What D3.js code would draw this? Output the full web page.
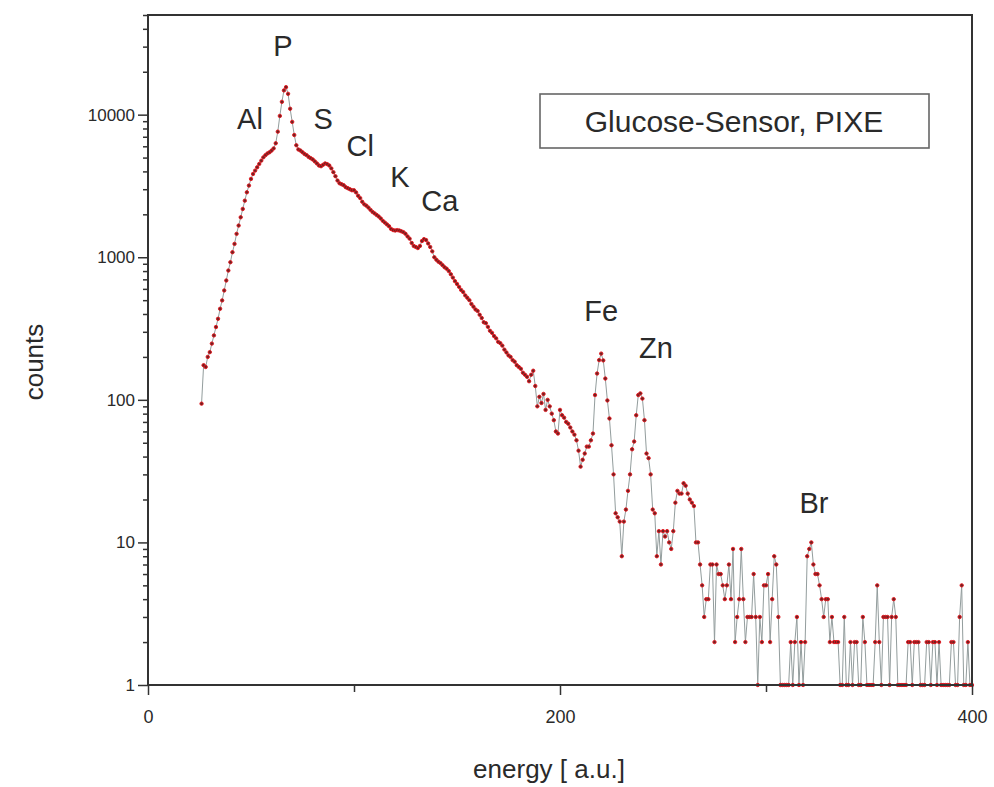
<!DOCTYPE html>
<html>
<head>
<meta charset="utf-8">
<script src="https://cdn.jsdelivr.net/npm/d3@7/dist/d3.min.js"></script>
<style>
  html, body { margin: 0; padding: 0; background: #fff; }
  svg { display: block; font-family: "Liberation Sans", Arial, sans-serif; }
</style>
</head>
<body>
<svg id="chart" width="994" height="787"></svg>
<script>
// ---- data ----
const firstChannel = 26;
const counts = [
  94, 175, 170, 200, 216, 248, 283, 324, 370, 435,            // 26-35
  498, 585, 687, 807, 923, 1085, 1241, 1459, 1668, 1907,      // 36-45
  2181, 2494, 2855, 3183, 3543, 3840, 4052, 4274, 4514, 4760, // 46-55
  5020, 5200, 5350, 5450, 5600, 5800, 6300, 7600, 9800, 12300,// 56-65
  14800, 15600, 14000, 11000, 8900, 7200, 6100, 5700, 5600, 5450, // 66-75
  5300, 5200, 5050, 4950, 4850, 4700, 4550, 4400, 4350, 4450, // 76-85
  4550, 4500, 4400, 4200, 3950, 3700, 3450, 3300, 3250, 3200, // 86-95
  3100, 3050, 3000, 2950, 2950, 2850, 2700, 2600, 2450, 2350, // 96-105
  2300, 2230, 2150, 2080, 2030, 1980, 1930, 1870, 1800, 1750, // 106-115
  1700, 1650, 1580, 1550, 1540, 1550, 1540, 1520, 1500, 1460, // 116-125
  1400, 1350, 1260, 1200, 1180, 1160, 1200, 1300, 1340, 1320, // 126-135
  1250, 1180, 1100, 1000, 960, 930, 910, 880, 850, 830,       // 136-145
  800, 760, 720, 680, 650, 620, 590, 570, 540, 520,           // 146-155
  500, 470, 450, 430, 420, 395, 375, 350, 345, 325,           // 156-165
  305, 295, 280, 270, 255, 250, 240, 225, 215, 205,           // 166-175
  200, 190, 185, 175, 170, 165, 155, 150, 145, 135,           // 176-185
  150, 160, 125, 90, 105, 95, 110, 85, 100, 90,               // 186-195
  80, 72, 60, 58, 85, 78, 75, 70, 68, 64,                     // 196-205
  60, 57, 52, 44, 34, 38, 42, 47, 47, 52,                     // 206-215
  58, 108, 153, 190, 211, 189, 141, 99, 74, 48,               // 216-225
  30, 16, 15, 14, 8, 14, 17, 23, 30, 45,                      // 226-235
  51, 78, 108, 111, 102, 72, 42, 39, 30, 17,                  // 236-245
  16, 8, 12, 7, 12, 11, 12, 10, 9, 12,                        // 246-255
  19, 23, 22, 22, 26, 25, 22, 20, 19, 18,                     // 256-265
  10, 10, 7, 5, 3, 4, 4, 7, 7, 2,                             // 266-275
  7, 6, 6, 5, 4, 5, 7, 4, 9, 2,                               // 276-285
  3, 4, 9, 4, 2, 3, 3, 3, 6, 3,                               // 286-295
  1, 3, 2, 5, 5, 6, 2, 4, 8, 7,                               // 296-305
  3, 1, 1, 1, 1, 1, 2, 1, 2, 3,                               // 306-315
  1, 2, 1, 2, 8, 9, 10, 7, 6, 6,                              // 316-325
  5, 4, 3, 4, 4, 2, 3, 2, 2, 2,                               // 326-335
  1, 1, 3, 1, 1, 2, 1, 2, 2, 1,                               // 336-345
  1, 3, 2, 1, 1, 1, 1, 2, 5, 2,                               // 346-355
  1, 3, 3, 3, 1, 3, 4, 3, 1, 1,                               // 356-365
  1, 1, 1, 2, 2, 1, 2, 2, 2, 1,                               // 366-375
  1, 1, 2, 2, 1, 2, 2, 1, 2, 1,                               // 376-385
  1, 1, 1, 1, 2, 2, 1, 1, 3, 5,                               // 386-395
  1, 1, 2, 1, 1                                               // 396-400
];
const channels = d3.range(firstChannel, firstChannel + counts.length);
const peakLabels = ["Al", "P", "S", "Cl", "K", "Ca", "Fe", "Zn", "Br"];
const peakEnergy = [49.5, 65.5, 85, 103, 122.3, 141.7, 220, 246.6, 323.3];
const peakCount = [7980, 25900, 7980, 5160, 3130, 2125, 360, 195, 16];
const xTickLabels = [0, 200, 400];
const xMinorTicks = [100, 300];
const yTickLabels = [1, 10, 100, 1000, 10000];
const legendText = "Glucose-Sensor, PIXE";
const xTitle = "energy [ a.u.]";
const yTitle = "counts";

// ---- layout ----
const svg = d3.select("#chart");
const L = 148, R = 972, T = 15, B = 685;
const x = d3.scaleLinear().domain([0, 400]).range([L, R]);
const y = d3.scaleLog().domain([1, 50000]).range([B, T]);

const axisColor = "#333";
const textColor = "#2a2a2a";

// minor y ticks
const yMinor = [];
[1, 10, 100, 1000, 10000].forEach(d => {
  for (let k = 2; k <= 9; k++) { const v = d * k; if (v <= 50000) yMinor.push(v); }
});

// data line
const pts = channels.map((c, i) => [c, counts[i]]);
const line = d3.line().x(d => x(d[0])).y(d => y(d[1]));
svg.append("path").datum(pts)
  .attr("d", line)
  .attr("fill", "none")
  .attr("stroke", "#939d9d")
  .attr("stroke-width", 1);

svg.append("g").selectAll("circle").data(pts).join("circle")
  .attr("cx", d => x(d[0]))
  .attr("cy", d => y(d[1]))
  .attr("r", 1.7)
  .attr("fill", "#6e2222")
  .attr("stroke", "#e3141c")
  .attr("stroke-width", 0.9);

// frame
svg.append("rect")
  .attr("x", L).attr("y", T).attr("width", R - L).attr("height", B - T)
  .attr("fill", "none").attr("stroke", axisColor).attr("stroke-width", 2);

// y axis major
const yAxisMajor = d3.axisLeft(y).tickValues(yTickLabels)
  .tickFormat(d3.format("d")).tickSize(10).tickPadding(3);
const gy = svg.append("g").attr("transform", `translate(${L},0)`).call(yAxisMajor);
gy.select(".domain").remove();
gy.selectAll("line").attr("stroke", axisColor).attr("stroke-width", 1.5);
gy.selectAll("text").attr("font-size", 17).attr("fill", textColor);

// y axis minor
const gym = svg.append("g").attr("transform", `translate(${L},0)`)
  .call(d3.axisLeft(y).tickValues(yMinor).tickFormat("").tickSize(5));
gym.select(".domain").remove();
gym.selectAll("line").attr("stroke", axisColor).attr("stroke-width", 1.5);

// x axis major
const gx = svg.append("g").attr("transform", `translate(0,${B})`)
  .call(d3.axisBottom(x).tickValues(xTickLabels).tickFormat(d3.format("d")).tickSize(10).tickPadding(15));
gx.select(".domain").remove();
gx.selectAll("line").attr("stroke", axisColor).attr("stroke-width", 1.5);
gx.selectAll("text").attr("font-size", 18).attr("fill", textColor);

const gxm = svg.append("g").attr("transform", `translate(0,${B})`)
  .call(d3.axisBottom(x).tickValues(xMinorTicks).tickFormat("").tickSize(7));
gxm.select(".domain").remove();
gxm.selectAll("line").attr("stroke", axisColor).attr("stroke-width", 1.5);

// titles
svg.append("text").attr("x", 549).attr("y", 778)
  .attr("text-anchor", "middle").attr("font-size", 26).attr("fill", textColor).text(xTitle);
svg.append("text").attr("transform", `translate(43,362) rotate(-90)`)
  .attr("text-anchor", "middle").attr("font-size", 26).attr("fill", textColor).text(yTitle);

// peak labels
svg.append("g").selectAll("text").data(peakLabels).join("text")
  .attr("x", (d, i) => x(peakEnergy[i]))
  .attr("y", (d, i) => y(peakCount[i]))
  .attr("text-anchor", "middle")
  .attr("font-size", 29)
  .attr("fill", textColor)
  .text(d => d);

// legend box
svg.append("rect").attr("x", 540).attr("y", 94).attr("width", 389).attr("height", 54)
  .attr("fill", "#fff").attr("stroke", "#666").attr("stroke-width", 1.6);
svg.append("text").attr("x", 734).attr("y", 132).attr("text-anchor", "middle")
  .attr("font-size", 30).attr("fill", textColor).text(legendText);
</script>
</body>
</html>
